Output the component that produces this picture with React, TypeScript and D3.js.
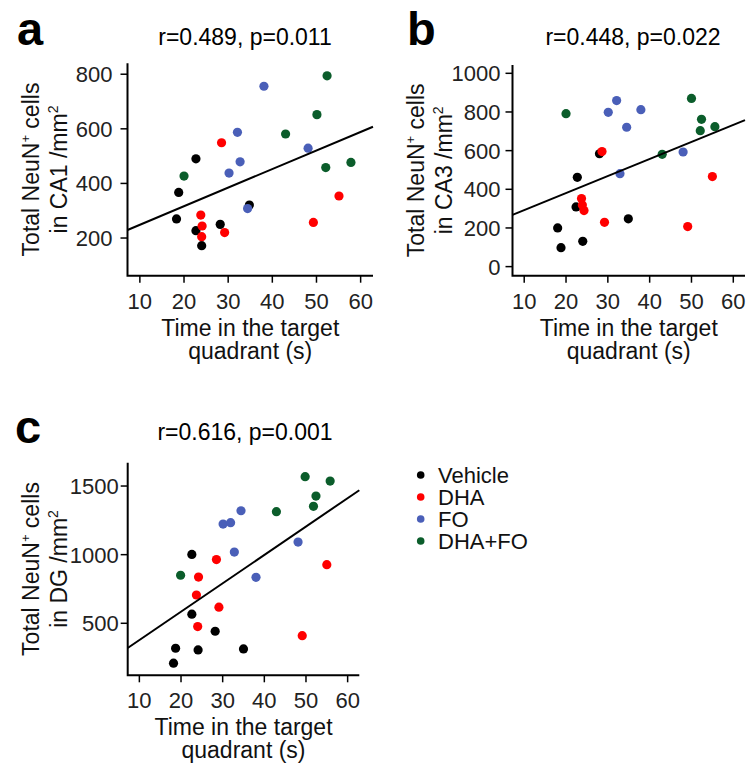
import React from "react";
import * as d3 from "d3";

// ---------- data ----------
const groups = ["Vehicle", "DHA", "FO", "DHA+FO"];
const groupColors = ["#000000", "#ff0000", "#4a5fb8", "#0b5d2b"];

const xTicks = [10, 20, 30, 40, 50, 60];
const xDomain = [7.2, 62.8];

// Panel a (CA1)
const aVehicle = [[18.3, 270], [18.8, 367], [22.7, 490], [22.7, 227], [24.0, 172], [28.2, 250], [34.8, 321]];
const aDHA = [[28.5, 549], [23.8, 284], [24.1, 244], [24.0, 205], [29.2, 220], [49.3, 257], [55.1, 354]];
const aFO = [[38.1, 756], [32.1, 587], [32.7, 479], [30.2, 438], [34.4, 308], [48.1, 529]];
const aDHAFO = [[20.0, 427], [52.4, 794], [50.1, 652], [43.0, 581], [52.1, 458], [57.8, 477]];

// Panel b (CA3)
const bVehicle = [[18.0, 200], [18.8, 98], [22.7, 462], [22.4, 309], [24.0, 131], [28.0, 584], [34.9, 247]];
const bDHA = [[28.6, 595], [23.7, 352], [23.9, 319], [24.3, 290], [29.2, 229], [49.1, 207], [55.0, 466]];
const bFO = [[32.1, 859], [30.1, 798], [37.9, 812], [34.5, 721], [32.9, 481], [48.0, 593]];
const bDHAFO = [[20.0, 791], [50.0, 870], [52.4, 762], [52.1, 703], [55.6, 724], [43.0, 581]];

// Panel c (DG)
const cVehicle = [[18.2, 209], [18.7, 318], [22.6, 1002], [22.6, 566], [24.1, 306], [28.2, 442], [35.0, 313]];
const cDHA = [[28.5, 964], [24.2, 837], [23.7, 706], [24.0, 476], [29.1, 617], [49.1, 410], [55.0, 927]];
const cFO = [[34.4, 1320], [30.1, 1223], [31.9, 1233], [32.8, 1019], [38.0, 835], [48.1, 1092]];
const cDHAFO = [[19.9, 850], [49.8, 1568], [55.8, 1536], [52.4, 1427], [51.8, 1352], [42.9, 1313]];

const panelLetters = ["a", "b", "c"];
const panelTitles = ["r=0.489, p=0.011", "r=0.448, p=0.022", "r=0.616, p=0.001"];
const panelRegions = ["CA1", "CA3", "DG"];
const yTicksA = [200, 400, 600, 800];
const yTicksB = [0, 200, 400, 600, 800, 1000];
const yTicksC = [500, 1000, 1500];
const yDomainA = [62, 840];
const yDomainB = [-47, 1043];
const yDomainC = [121, 1670];
const fitIntercepts = [180.6, 204, 170.8];
const fitSlopes = [6.8, 8.82, 20.68];

const panelSeries = [
  [aVehicle, aDHA, aFO, aDHAFO],
  [bVehicle, bDHA, bFO, bDHAFO],
  [cVehicle, cDHA, cFO, cDHAFO],
];
const panelYTicks = [yTicksA, yTicksB, yTicksC];
const panelYDomains = [yDomainA, yDomainB, yDomainC];

// ---------- layout ----------
const layouts = [
  { left: 127.5, right: 373, top: 63.3, bottom: 275.7, titleX: 245, titleY: 45, letterX: 17, letterY: 45, labelGap: 15 },
  { left: 512.5, right: 745, top: 65, bottom: 275.7, titleX: 633, titleY: 45, letterX: 407, letterY: 45, labelGap: 12 },
  { left: 127.7, right: 359.3, top: 462.7, bottom: 675.3, titleX: 245, titleY: 440, letterX: 15, letterY: 443, labelGap: 9 },
];

const FONT = "'Liberation Sans', Arial, Helvetica, sans-serif";

function Panel({ idx }: { idx: number }) {
  const L = layouts[idx];
  const x = d3.scaleLinear().domain(xDomain).range([L.left, L.right]);
  const y = d3.scaleLinear().domain(panelYDomains[idx]).range([L.bottom, L.top]);
  const fitLine = d3
    .line<number>()
    .x((d) => x(d))
    .y((d) => y(fitIntercepts[idx] + fitSlopes[idx] * d));
  const cx = (L.left + L.right) / 2;
  const cy = (L.top + L.bottom) / 2;
  return (
    <g>
      <text x={L.letterX} y={L.letterY} fontSize={47} fontWeight="bold" fontFamily={FONT}>
        {panelLetters[idx]}
      </text>
      <text x={L.titleX} y={L.titleY} fontSize={23} textAnchor="middle" fontFamily={FONT}>
        {panelTitles[idx]}
      </text>
      {/* axes */}
      <path
        d={`M${L.left},${L.top}V${L.bottom}H${L.right}`}
        fill="none"
        stroke="#000"
        strokeWidth={2}
      />
      {panelYTicks[idx].map((t) => (
        <g key={"y" + t}>
          <line x1={L.left - 7} x2={L.left} y1={y(t)} y2={y(t)} stroke="#000" strokeWidth={1.5} />
          <text
            x={L.left - L.labelGap}
            y={y(t)}
            dy="0.36em"
            textAnchor="end"
            fontSize={22}
            fontFamily={FONT}
            fill="#222"
          >
            {t}
          </text>
        </g>
      ))}
      {xTicks.map((t) => (
        <g key={"x" + t}>
          <line x1={x(t)} x2={x(t)} y1={L.bottom} y2={L.bottom + 7} stroke="#000" strokeWidth={1.5} />
          <text x={x(t)} y={L.bottom + 33} textAnchor="middle" fontSize={22} fontFamily={FONT} fill="#222">
            {t}
          </text>
        </g>
      ))}
      {/* x title */}
      <text x={cx} y={L.bottom + 60} textAnchor="middle" fontSize={23} fontFamily={FONT} fill="#111">
        Time in the target
      </text>
      <text x={cx} y={L.bottom + 83} textAnchor="middle" fontSize={23} fontFamily={FONT} fill="#111">
        quadrant (s)
      </text>
      {/* y title */}
      <text
        transform={`translate(${L.left - 89},${cy}) rotate(-90)`}
        textAnchor="middle"
        fontSize={23}
        fontFamily={FONT}
        fill="#111"
      >
        <tspan>Total NeuN</tspan>
        <tspan fontSize={13} dy={-9}>+</tspan>
        <tspan dy={9}> cells</tspan>
      </text>
      <text
        transform={`translate(${L.left - 61},${cy}) rotate(-90)`}
        textAnchor="middle"
        fontSize={23}
        fontFamily={FONT}
        fill="#111"
      >
        <tspan>{`in ${panelRegions[idx]} /mm`}</tspan>
        <tspan fontSize={14} dy={-9}>2</tspan>
      </text>
      {/* points */}
      {panelSeries[idx].map((series, gi) =>
        series.map((p, pi) => (
          <circle key={gi + "-" + pi} cx={x(p[0])} cy={y(p[1])} r={4.6} fill={groupColors[gi]} />
        ))
      )}
      <path d={fitLine(xDomain) || ""} fill="none" stroke="#000" strokeWidth={2} />
    </g>
  );
}

export default function App() {
  const legendY = d3.scaleLinear().domain([0, 3]).range([475, 541]);
  return (
    <svg
      width={751}
      height={773}
      style={{ position: "absolute", left: 0, top: 0, background: "#fff" }}
    >
      <rect width={751} height={773} fill="#fff" />
      {[0, 1, 2].map((i) => (
        <Panel key={i} idx={i} />
      ))}
      {groups.map((g, i) => (
        <g key={g}>
          <circle cx={420.7} cy={legendY(i)} r={3.8} fill={groupColors[i]} />
          <text x={438} y={legendY(i) + 8} fontSize={22} fontFamily={FONT} fill="#111">
            {g}
          </text>
        </g>
      ))}
    </svg>
  );
}
